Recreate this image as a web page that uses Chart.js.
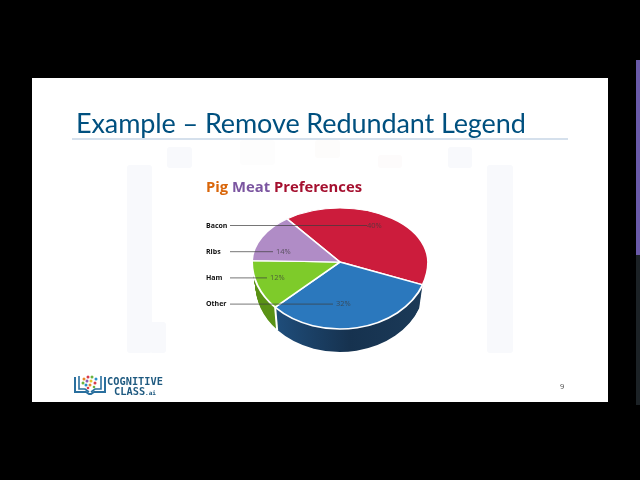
<!DOCTYPE html>
<html>
<head>
<meta charset="utf-8">
<script src="https://cdn.jsdelivr.net/npm/chart.js@4"></script>
<style>
html, body { margin: 0; width: 640px; height: 480px; background: #000; overflow: hidden; }
.strip { position: absolute; left: 636px; top: 60px; width: 4px; height: 195px; background: #6a5aa8; }
.strip2 { position: absolute; left: 636px; top: 255px; width: 4px; height: 150px; background: #1c2226; }
.slide { position: absolute; left: 32px; top: 78px; width: 576px; height: 324px; background: #fff; overflow: hidden; filter: blur(0.35px); }
.ghost { position: absolute; background: #f8f9fc; border-radius: 3px; }
.title { position: absolute; left: 44px; top: 28px; font: 27px Lato, sans-serif; color: #00507f; letter-spacing: -0.1px; white-space: nowrap; }
.rule { position: absolute; left: 40px; top: 60px; width: 496px; height: 2px; background: #d5e0ec; }
.charttitle { position: absolute; left: 174px; top: 98px; font: bold 14.8px "Open Sans", sans-serif; white-space: nowrap; }
.logo { position: absolute; left: 41px; top: 296px; }
.logotext { position: absolute; left: 75px; top: 298px; width: 56px; font: bold 10.3px/10px "DejaVu Sans Mono", monospace; color: #1f5a80; text-align: center; }
.logotext small { font-size: 6px; }
.pageno { position: absolute; left: 528px; top: 303px; font: 7.5px "Open Sans", sans-serif; color: #444; }
canvas { position: absolute; left: 0; top: 0; filter: blur(0.35px); }
</style>
</head>
<body>
<div class="strip"></div>
<div class="strip2"></div>
<div class="slide">
	<div class="ghost" style="left:95px;top:87px;width:25px;height:188px"></div>
	<div class="ghost" style="left:118px;top:244px;width:16px;height:31px"></div>
	<div class="ghost" style="left:135px;top:69px;width:25px;height:21px"></div>
	<div class="ghost" style="left:208px;top:62px;width:35px;height:25px;background:#fdfdfd"></div>
	<div class="ghost" style="left:283px;top:62px;width:25px;height:18px;background:#fdfcfb"></div>
	<div class="ghost" style="left:346px;top:77px;width:24px;height:13px;background:#fdfbfb"></div>
	<div class="ghost" style="left:416px;top:69px;width:24px;height:21px"></div>
	<div class="ghost" style="left:455px;top:87px;width:26px;height:188px"></div>
	<div class="title">Example – Remove Redundant Legend</div>
	<div class="rule"></div>
	<div class="charttitle"><span style="color:#d9660a">Pig</span> <span style="color:#7b55a0">Meat</span> <span style="color:#a5102f">Preferences</span></div>
	<svg class="logo" width="34" height="22" viewBox="0 0 34 22">
		<path d="M2 3 V18 H13 L16 20 H18 L21 18 H32 V3" fill="none" stroke="#2a6f9e" stroke-width="2"/>
		<path d="M6 2 V15 H12 L16 18 M28 2 V15 H22 L18 18" fill="none" stroke="#2a6f9e" stroke-width="1.6"/>
		<circle cx="11" cy="5" r="1.5" fill="#e8862c"/><circle cx="15" cy="3" r="1.5" fill="#d93a4a"/>
		<circle cx="19" cy="3" r="1.5" fill="#6cb33f"/><circle cx="23" cy="5" r="1.5" fill="#2a8fc9"/>
		<circle cx="10" cy="9" r="1.5" fill="#6cb33f"/><circle cx="14" cy="7" r="1.5" fill="#8a5bb0"/>
		<circle cx="18" cy="7" r="1.5" fill="#e8c22c"/><circle cx="22" cy="9" r="1.5" fill="#d93a4a"/>
		<circle cx="13" cy="11" r="1.5" fill="#2a8fc9"/><circle cx="17" cy="11" r="1.5" fill="#e8862c"/>
		<circle cx="21" cy="13" r="1.3" fill="#6cb33f"/><circle cx="15" cy="14" r="1.3" fill="#d93a4a"/>
	</svg>
	<div class="logotext">COGNITIVE<br>CLASS<small>.ai</small></div>
	<div class="pageno">9</div>
</div>
<canvas id="pie" width="640" height="480"></canvas>
<script>
const categories = ["Bacon", "Other", "Ham", "Ribs"];
const shares = [40, 32, 12, 14];
const topColors = ["#cc1c3c", "#2b78bd", "#7ecb2a", "#b08cc6"];
// the red and purple rims are behind the top face in the reference
const sideColors = ["rgba(0,0,0,0)", "#1c3f66", "#5a9216", "rgba(0,0,0,0)"];
const rowLabels = ["Bacon", "Ribs", "Ham", "Other"];

const cx = 340, cy = 262;
const topSquash = 54 / 88, bottomSquash = 67 / 88;
const depth = 23;
const rowTop = 225.5, rowStep = 26.2;
const leaderEnds = { Bacon: 367, Ribs: 273, Ham: 267, Other: 333 };

function drawFace(chart, meta, dy, narrow) {
	const ctx = chart.ctx;
	[[0, cy + dy, topSquash], [cy + dy, 480, bottomSquash]].forEach(([y0, y1, squash]) => {
		ctx.save();
		ctx.beginPath();
		ctx.rect(0, y0, 640, y1 - y0);
		ctx.clip();
		ctx.translate(cx, cy + dy);
		ctx.scale(narrow, squash);
		ctx.translate(-cx, -cy);
		meta.data.forEach((arc) => arc.draw(ctx));
		ctx.restore();
	});
}

const squashedPie = {
	id: "squashedPie",
	beforeDatasetsDraw(chart) {
		const ctx = chart.ctx;
		const meta = chart.getDatasetMeta(0);
		const sideFill = ctx.createLinearGradient(272, 0, 428, 0);
		sideFill.addColorStop(0, "#1f4e7c");
		sideFill.addColorStop(0.5, "#16324f");
		sideFill.addColorStop(1, "#1b3a58");

		// the rim: same arcs in the dark colours, stacked downwards
		meta.data.forEach((arc, i) => {
			arc.options.backgroundColor = i === 1 ? sideFill : sideColors[i];
			arc.options.borderWidth = 0;
		});
		for (let d = depth; d > 0; d--) drawFace(chart, meta, d, 1 - 0.04 * d / depth);

		// white seam between the blue and green rim
		const seam = meta.data[1];
		const sx = cx + seam.outerRadius * Math.cos(seam.endAngle);
		const sy = cy + seam.outerRadius * Math.sin(seam.endAngle) * bottomSquash;
		ctx.strokeStyle = "#fff";
		ctx.lineWidth = 2;
		ctx.beginPath();
		ctx.moveTo(sx, sy);
		ctx.lineTo(sx + 2, sy + depth);
		ctx.stroke();

		meta.data.forEach((arc, i) => {
			arc.options.backgroundColor = topColors[i];
			arc.options.borderColor = "#fff";
			arc.options.borderWidth = 2;
		});
		drawFace(chart, meta, 0, 1);
		return false;
	},
	// beforeDatasetsDraw returning false skips afterDatasetsDraw, so labels go here
	afterDraw(chart) {
		const ctx = chart.ctx;
		rowLabels.forEach((name, row) => {
			const y = rowTop + row * rowStep;
			ctx.strokeStyle = "rgba(60,60,60,0.7)";
			ctx.lineWidth = 1;
			ctx.beginPath();
			ctx.moveTo(230, y);
			ctx.lineTo(leaderEnds[name], y);
			ctx.stroke();
			ctx.fillStyle = "#111";
			ctx.font = "bold 7px 'Open Sans', sans-serif";
			ctx.textAlign = "left";
			ctx.textBaseline = "middle";
			ctx.fillText(name, 206, y);
			ctx.fillStyle = "rgba(60,60,60,0.75)";
			ctx.font = "7.5px 'Open Sans', sans-serif";
			ctx.fillText(shares[categories.indexOf(name)] + "%", leaderEnds[name] + (name === "Bacon" ? 0 : 3), y);
		});
	}
};

new Chart(document.getElementById("pie"), {
	type: "pie",
	data: {
		labels: categories,
		datasets: [{ data: shares, backgroundColor: topColors, borderColor: "#fff", borderWidth: 2 }]
	},
	plugins: [squashedPie],
	options: {
		responsive: false,
		animation: false,
		rotation: -37,
		layout: { padding: { left: 251, right: 211, top: 173, bottom: 129 } },
		plugins: { legend: { display: false }, tooltip: { enabled: false } }
	}
});
</script>
</body>
</html>
